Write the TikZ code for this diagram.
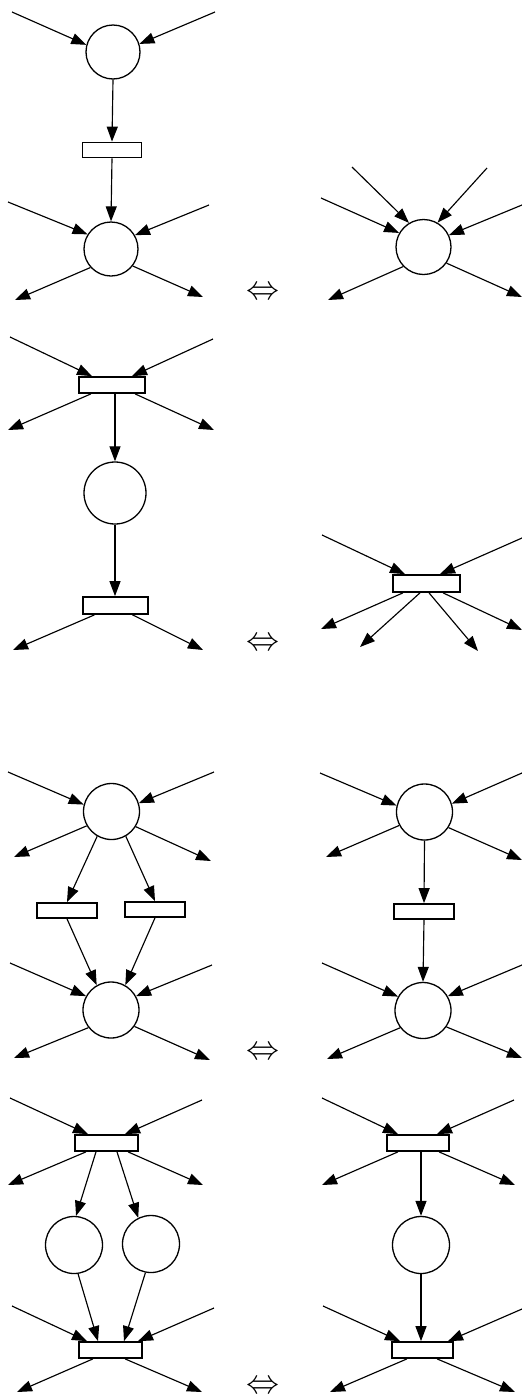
\documentclass[tikz,border=0pt]{standalone}
\usetikzlibrary{arrows.meta,calc}
\begin{document}
\begin{tikzpicture}[x=1pt,y=-1pt,
  place/.style={circle,draw,line width=1.3pt,minimum size=#1,inner sep=0pt},
  place/.default=55pt,
  trans/.style 2 args={rectangle,draw,line width=1.7pt,minimum width=#1,minimum height=#2,inner sep=0pt},
  arc/.style={line width=1.15pt,-{Triangle[length=15pt,width=11pt]}},
  equiv/.style={inner sep=0pt}]
\useasboundingbox (0,0) rectangle (522,1398);

% ---------------- Section 1 left
\node[place=54pt] (P1a) at (113,52) {};
\node[trans={59pt}{15pt}] (T1) at (112,150) {};
\node[place=54pt] (P1b) at (111,249) {};
\coordinate (a1) at (12,12);   \coordinate (a2) at (215,12);
\coordinate (a3) at (8,202);   \coordinate (a4) at (209,205);
\coordinate (a5) at (15,300);  \coordinate (a6) at (203,297);
\draw[arc] (a1) -- (P1a.165);
\draw[arc] (a2) -- (P1a.17);
\draw[arc] (P1a.south) -- (T1.north);
\draw[arc] (T1.south) -- (P1b.north);
\draw[arc] (a3) -- (P1b.148);
\draw[arc] (a4) -- (P1b.30);
\draw[arc] (P1b.222) -- (a5);
\draw[arc] (P1b.322) -- (a6);
\node[equiv] (eq1) at (262.5,293.5) {\scalebox{3.3}[3.4]{$\Leftrightarrow$}};

% ---------------- Section 1 right
\node[place=55pt] (P1c) at (423.5,247) {};
\coordinate (b1) at (352,167); \coordinate (b2) at (487,168);
\coordinate (b3) at (321,198); \coordinate (b4) at (522,205);
\coordinate (b5) at (328,300); \coordinate (b6) at (522,297);
\draw[arc] (b1) -- (P1c.121);
\draw[arc] (b2) -- (P1c.60);
\draw[arc] (b3) -- (P1c.150);
\draw[arc] (b4) -- (P1c.25);
\draw[arc] (P1c.224) -- (b5);
\draw[arc] (P1c.325) -- (b6);

% ---------------- Section 2 left
\node[trans={66pt}{16pt}] (T2a) at (112,385) {};
\node[place=62pt] (P2) at (115,493) {};
\node[trans={65pt}{17pt}] (T2b) at (115.5,605.5) {};
\coordinate (c1) at (10,337);  \coordinate (c2) at (213,339);
\coordinate (c3) at (8,430);   \coordinate (c4) at (214,430);
\coordinate (c5) at (13,650);  \coordinate (c6) at (203,650);
\draw[arc] (c1) -- ($(T2a.north)+(-20,0)$);
\draw[arc] (c2) -- ($(T2a.north)+(20,0)$);
\draw[arc] ($(T2a.south)+(-21,0)$) -- (c3);
\draw[arc] ($(T2a.south)+(23,0)$) -- (c4);
\draw[arc] (T2a.south -| P2) -- (P2);
\draw[arc] (P2) -- (P2 |- T2b.north);
\draw[arc] ($(T2b.south)+(-21,0)$) -- (c5);
\draw[arc] ($(T2b.south)+(17,0)$) -- (c6);
\node[equiv] (eq2) at (262.5,644.5) {\scalebox{3.3}[3.4]{$\Leftrightarrow$}};

% ---------------- Section 2 right
\node[trans={67pt}{17pt}] (T2c) at (426.5,583.5) {};
\coordinate (d1) at (322,535); \coordinate (d2) at (522,538);
\coordinate (d3) at (321,629); \coordinate (d4) at (360,647);
\coordinate (d5) at (478,651); \coordinate (d6) at (522,630);
\draw[arc] (d1) -- ($(T2c.north)+(-21.5,0)$);
\draw[arc] (d2) -- ($(T2c.north)+(13.5,0)$);
\draw[arc] ($(T2c.south)+(-23.5,0)$) -- (d3);
\draw[arc] ($(T2c.south)+(-6.5,0)$) -- (d4);
\draw[arc] ($(T2c.south)+(2.5,0)$) -- (d5);
\draw[arc] ($(T2c.south)+(16.5,0)$) -- (d6);

% ---------------- Section 3 left
\node[place=56pt] (P3a) at (111.5,811.5) {};
\node[trans={60pt}{15pt}] (T3a) at (67,910.5) {};
\node[trans={60pt}{15pt}] (T3b) at (155,909.5) {};
\node[place=56pt] (P3b) at (111,1010) {};
\coordinate (e1) at (8,772);   \coordinate (e2) at (214,772);
\coordinate (e3) at (14,857);  \coordinate (e4) at (211,861);
\coordinate (e5) at (10,963);  \coordinate (e6) at (212,965);
\coordinate (e7) at (14,1058); \coordinate (e8) at (210,1060);
\draw[arc] (e1) -- (P3a.166);
\draw[arc] (e2) -- (P3a.17);
\draw[arc] (P3a.210) -- (e3);
\draw[arc] (P3a.328) -- (e4);
\draw[arc] (P3a.240) -- (T3a.north);
\draw[arc] (P3a.300) -- (T3b.north);
\draw[arc] (T3a.south) -- (P3b.120);
\draw[arc] (T3b.south) -- (P3b.60);
\draw[arc] (e5) -- (P3b.151);
\draw[arc] (e6) -- (P3b.29);
\draw[arc] (P3b.218) -- (e7);
\draw[arc] (P3b.325) -- (e8);
\node[equiv] (eq3) at (262.5,1053.5) {\scalebox{3.3}[3.4]{$\Leftrightarrow$}};

% ---------------- Section 3 right
\node[place=56pt] (P3c) at (424.5,812) {};
\node[trans={60pt}{15pt}] (T3c) at (424,911.5) {};
\node[place=56pt] (P3d) at (423,1010.5) {};
\coordinate (f1) at (320,773); \coordinate (f2) at (522,773);
\coordinate (f3) at (326,857); \coordinate (f4) at (522,860);
\coordinate (f5) at (322,963); \coordinate (f6) at (522,965);
\coordinate (f7) at (327,1059);\coordinate (f8) at (522,1058);
\draw[arc] (f1) -- (P3c.167);
\draw[arc] (f2) -- (P3c.17);
\draw[arc] (P3c.208) -- (f3);
\draw[arc] (P3c.327) -- (f4);
\draw[arc] (P3c.south) -- (T3c.north);
\draw[arc] (T3c.south) -- (P3d.north);
\draw[arc] (f5) -- (P3d.151);
\draw[arc] (f6) -- (P3d.30);
\draw[arc] (P3d.217) -- (f7);
\draw[arc] (P3d.325) -- (f8);

% ---------------- Section 4 left
\node[trans={63pt}{16pt}] (T4a) at (106.5,1143) {};
\node[place=57pt] (P4a) at (74,1245) {};
\node[place=57pt] (P4b) at (151,1244) {};
\node[trans={63pt}{16pt}] (T4b) at (110.5,1350) {};
\coordinate (g1) at (10,1098);  \coordinate (g2) at (202,1100);
\coordinate (g3) at (8,1185);   \coordinate (g4) at (203,1185);
\coordinate (g5) at (12,1306);  \coordinate (g6) at (214,1308);
\coordinate (g7) at (17,1392);  \coordinate (g8) at (202,1392);
\draw[arc] (g1) -- ($(T4a.north)+(-18.5,0)$);
\draw[arc] (g2) -- ($(T4a.north)+(18.5,0)$);
\draw[arc] ($(T4a.south)+(-20.5,0)$) -- (g3);
\draw[arc] ($(T4a.south)+(21.5,0)$) -- (g4);
\draw[arc] ($(T4a.south)+(-10.5,0)$) -- (P4a.86);
\draw[arc] ($(T4a.south)+(10.5,0)$) -- (P4b.116);
\draw[arc] (P4a.278) -- ($(T4b.north)+(-12.5,0)$);
\draw[arc] (P4b.259) -- ($(T4b.north)+(13.5,0)$);
\draw[arc] (g5) -- ($(T4b.north)+(-23.5,0)$);
\draw[arc] (g6) -- ($(T4b.north)+(27.5,0)$);
\draw[arc] ($(T4b.south)+(-17.5,0)$) -- (g7);
\draw[arc] ($(T4b.south)+(14.5,0)$) -- (g8);
\node[equiv] (eq4) at (262.5,1387.5) {\scalebox{3.3}[3.4]{$\Leftrightarrow$}};

% ---------------- Section 4 right
\node[trans={62pt}{16pt}] (T4c) at (418,1143) {};
\node[place=57pt] (P4c) at (421,1245) {};
\node[trans={61pt}{16pt}] (T4d) at (422.5,1350) {};
\coordinate (h1) at (322,1098); \coordinate (h2) at (514,1100);
\coordinate (h3) at (322,1185); \coordinate (h4) at (515,1185);
\coordinate (h5) at (323,1306); \coordinate (h6) at (522,1309);
\coordinate (h7) at (330,1392); \coordinate (h8) at (515,1392);
\draw[arc] (h1) -- ($(T4c.north)+(-20,0)$);
\draw[arc] (h2) -- ($(T4c.north)+(19,0)$);
\draw[arc] ($(T4c.south)+(-20,0)$) -- (h3);
\draw[arc] ($(T4c.south)+(21,0)$) -- (h4);
\draw[arc] (T4c.south -| P4c) -- (P4c);
\draw[arc] (P4c) -- (P4c |- T4d.north);
\draw[arc] (h5) -- ($(T4d.north)+(-22.5,0)$);
\draw[arc] (h6) -- ($(T4d.north)+(25.5,0)$);
\draw[arc] ($(T4d.south)+(-15.5,0)$) -- (h7);
\draw[arc] ($(T4d.south)+(14.5,0)$) -- (h8);
\end{tikzpicture}
\end{document}
